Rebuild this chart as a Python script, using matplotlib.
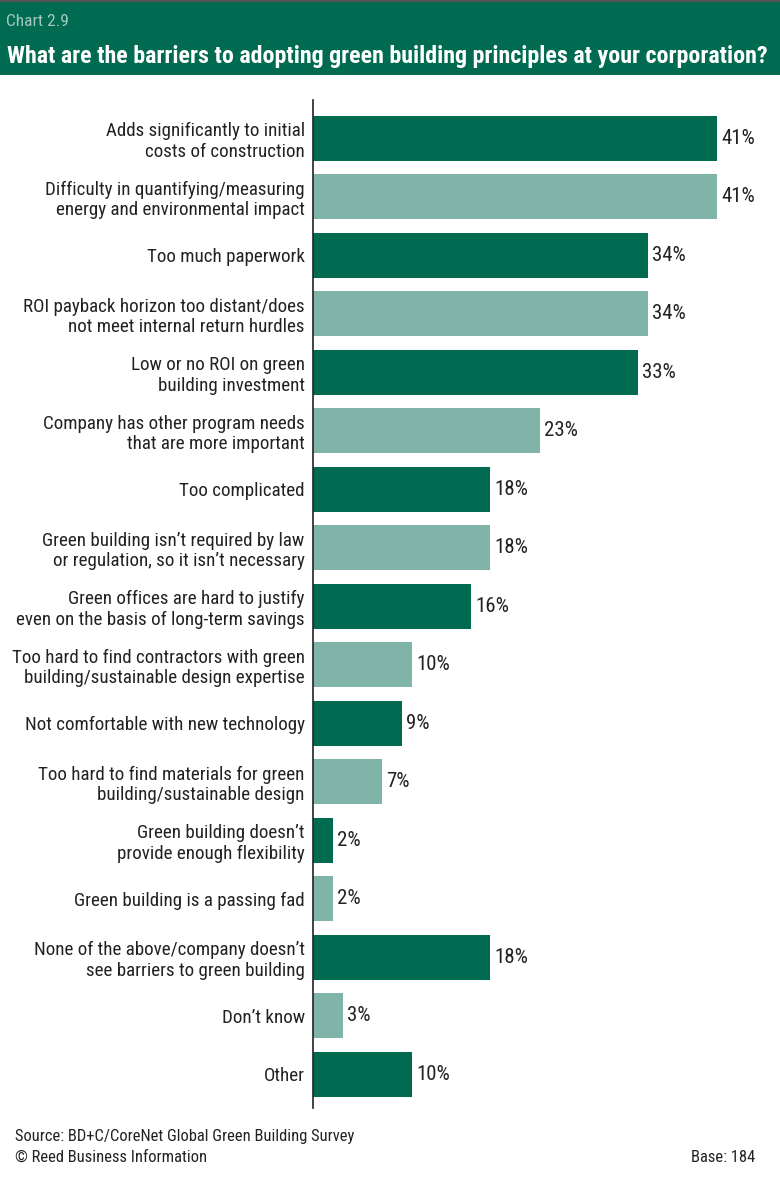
import matplotlib
matplotlib.use("Agg")
import matplotlib.pyplot as plt
from matplotlib.patches import Rectangle

plt.rcParams['font.family'] = ['Roboto Condensed', 'DejaVu Sans']

categories = [
    "Adds significantly to initial\ncosts of construction",
    "Difficulty in quantifying/measuring\nenergy and environmental impact",
    "Too much paperwork",
    "ROI payback horizon too distant/does\nnot meet internal return hurdles",
    "Low or no ROI on green\nbuilding investment",
    "Company has other program needs\nthat are more important",
    "Too complicated",
    "Green building isn\u2019t required by law\nor regulation, so it isn\u2019t necessary",
    "Green offices are hard to justify\neven on the basis of long-term savings",
    "Too hard to find contractors with green\nbuilding/sustainable design expertise",
    "Not comfortable with new technology",
    "Too hard to find materials for green\nbuilding/sustainable design",
    "Green building doesn\u2019t\nprovide enough flexibility",
    "Green building is a passing fad",
    "None of the above/company doesn\u2019t\nsee barriers to green building",
    "Don\u2019t know",
    "Other",
]
values = [41, 41, 34, 34, 33, 23, 18, 18, 16, 10, 9, 7, 2, 2, 18, 3, 10]

DARK = "#006B50"
LIGHT = "#80B4A8"
colors = [DARK if i % 2 == 0 else LIGHT for i in range(len(values))]

W, H = 780, 1180
fig = plt.figure(figsize=(W / 100, H / 100), dpi=100)
fig.patch.set_facecolor("white")

# header band
fig.patches.append(Rectangle((0, 1 - 75 / H), 1, 73 / H, transform=fig.transFigure,
                             facecolor=DARK, edgecolor="none", zorder=0))
fig.patches.append(Rectangle((0, 1 - 2 / H), 1, 2 / H, transform=fig.transFigure,
                             facecolor="#555555", edgecolor="none", zorder=0))
fig.text(6 / W, 1 - 21 / H, "Chart 2.9", color="#A3C9BD", fontsize=12.5,
         ha="left", va="center")
fig.text(7 / W, 1 - 56 / H,
         "What are the barriers to adopting green building principles at your corporation?",
         color="white", fontsize=17.3, fontweight="bold", ha="left", va="center")

ax_left = 313 / W
ax_right = 760 / W
ax_top = 1 - 100 / H
ax_bottom = 1 - 1108 / H
ax = fig.add_axes([ax_left, ax_bottom, ax_right - ax_left, ax_top - ax_bottom])

y = list(range(len(values)))
ax.barh(y, values, height=0.77, color=colors, edgecolor="none")
px_per_unit = 9.85
ax.set_xlim(0, (760 - 313) / px_per_unit)
ax.set_ylim(len(values) - 1 + 0.58, -0.65)

for yi, v in zip(y, values):
    ax.text(v + 0.45, yi, f"{v}%", va="center", ha="left", fontsize=15, color="#222222")

ax.set_yticks(y)
ax.set_yticklabels(categories, fontsize=13.7, color="#222222", linespacing=1.2)
ax.tick_params(axis="y", length=0, pad=6)
ax.set_xticks([])
for s in ["top", "right", "bottom"]:
    ax.spines[s].set_visible(False)
ax.spines["left"].set_color("#222222")
ax.spines["left"].set_linewidth(1.2)

fig.text(15 / W, 1 - 1137 / H, "Source: BD+C/CoreNet Global Green Building Survey",
         fontsize=11.9, color="#222222", ha="left", va="center")
fig.text(15 / W, 1 - 1157 / H, "\u00a9 Reed Business Information",
         fontsize=11.9, color="#222222", ha="left", va="center")
fig.text(755 / W, 1 - 1157 / H, "Base: 184",
         fontsize=11.9, color="#222222", ha="right", va="center")

fig.savefig("out.png", dpi=100)
